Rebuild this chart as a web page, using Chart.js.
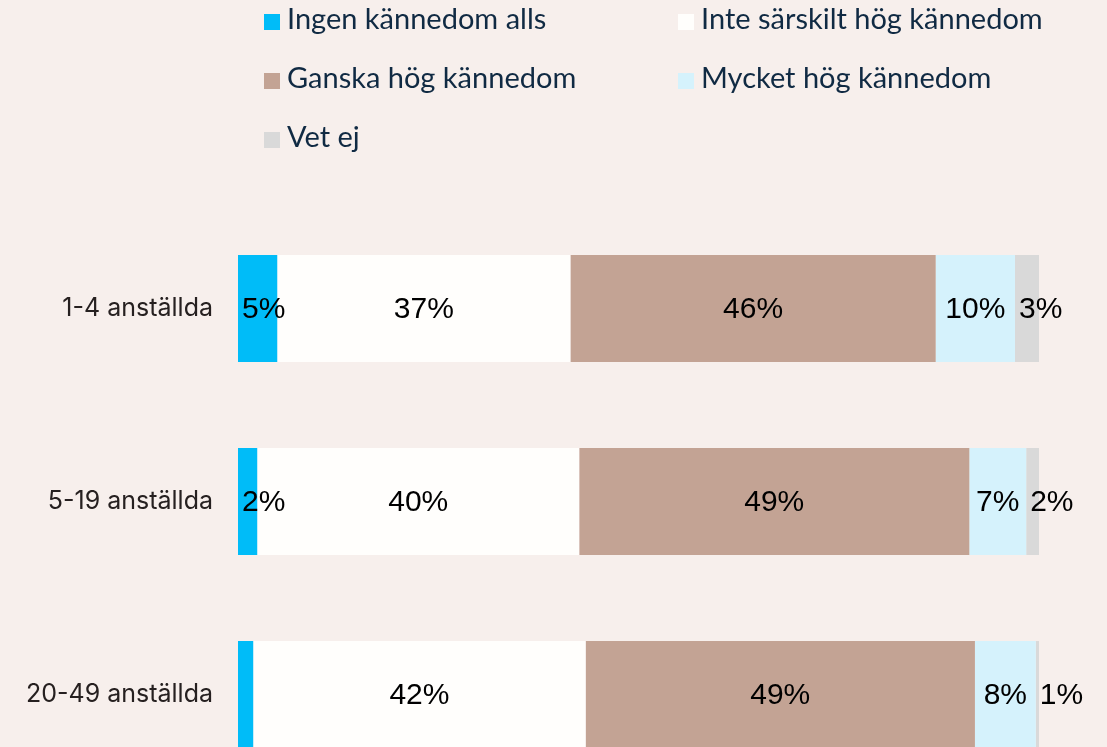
<!DOCTYPE html>
<html>
<head>
<meta charset="utf-8">
<script src="https://cdn.jsdelivr.net/npm/chart.js@4"></script>
<style>
  html, body { margin: 0; padding: 0; background: #F7EFEC; overflow: hidden; }
  #wrap { position: relative; width: 1107px; height: 800px; }
  #legend { position: absolute; left: 0; top: 0; width: 1107px; height: 200px; }
  .item { position: absolute; }
  .box { position: absolute; width: 16px; height: 16px; }
  .txt { position: absolute; white-space: nowrap; font-family: Lato, sans-serif; font-size: 29px;
         line-height: 29px; color: #102A43; }
</style>
</head>
<body>
<div id="wrap">
  <canvas id="kannedomChart" width="1107" height="800"></canvas>
  <div id="legend"></div>
</div>
<script>
// kategorier och serier (procent)
var categories = ['1-4 anställda', '5-19 anställda', '20-49 anställda']
var seriesNames = ['Ingen kännedom alls', 'Inte särskilt hög kännedom', 'Ganska hög kännedom', 'Mycket hög kännedom', 'Vet ej']
var ingen = [4.9, 2.4, 1.9]
var inteSarskilt = [36.6, 40.2, 41.5]
var ganska = [45.6, 48.7, 48.6]
var mycket = [9.9, 7.1, 7.6]
var vetEj = [3.0, 1.6, 0.6]
var colors = ['#00BCF8', '#FFFEFC', '#C3A394', '#D5F2FC', '#D9D9D9']
// etiketter som inte visas i originalet [serie, kategori]
var skipLabels = [[0, 2]]

var seriesValues = [ingen, inteSarskilt, ganska, mycket, vetEj]

var barLabels = {
    id: 'barLabels',
    afterDatasetsDraw(chart) {
        var ctx = chart.ctx
        ctx.save()
        ctx.font = '30px "Liberation Sans", Arial, sans-serif'
        ctx.fillStyle = '#000'
        ctx.textBaseline = 'middle'
        chart.data.datasets.forEach(function (ds, di) {
            var meta = chart.getDatasetMeta(di)
            meta.data.forEach(function (bar, i) {
                if (skipLabels.some(function (s) { return s[0] == di && s[1] == i })) return
                var text = Math.round(ds.data[i]) + '%'
                var w = ctx.measureText(text).width
                var left = Math.min(bar.base, bar.x), right = Math.max(bar.base, bar.x)
                var x
                if (w + 6 <= right - left) {
                    ctx.textAlign = 'center'
                    x = (left + right) / 2
                } else {
                    ctx.textAlign = 'left'
                    x = left + 4
                }
                ctx.fillText(text, x, bar.y + 1)
            })
        })
        ctx.restore()
    }
}

var ctx = document.getElementById('kannedomChart').getContext('2d')

var chart = new Chart(ctx, {
    type: 'bar',
    data: {
        labels: categories,
        datasets: seriesNames.map(function (name, i) {
            return {
                label: name,
                data: seriesValues[i],
                backgroundColor: colors[i],
                borderWidth: 0,
                barPercentage: 0.554,
                categoryPercentage: 1
            }
        })
    },
    options: {
        indexAxis: 'y',
        responsive: false,
        animation: false,
        layout: { padding: { left: 0, right: 68, top: 212, bottom: 9 } },
        plugins: {
            legend: { display: false },
            tooltip: { enabled: false }
        },
        scales: {
            x: { stacked: true, min: 0, max: 100, display: false },
            y: {
                stacked: true,
                grid: { display: false, drawTicks: false },
                border: { display: false },
                afterFit: function (scale) {
                    scale.width = 238
                    scale.paddingTop = 0
                    scale.paddingBottom = 0
                },
                ticks: {
                    padding: 25,
                    color: '#262020',
                    font: { family: 'Inter, "Open Sans", sans-serif', size: 25 }
                }
            }
        }
    },
    plugins: [barLabels]
})

// legend i två kolumner
var legendEl = document.getElementById('legend')
var colX = [264, 678]
chart.data.datasets.forEach(function (ds, i) {
    var col = i % 2, row = Math.floor(i / 2)
    var item = document.createElement('div')
    item.className = 'item'
    item.style.left = colX[col] + 'px'
    item.style.top = (14 + row * 59) + 'px'
    var box = document.createElement('div')
    box.className = 'box'
    box.style.background = ds.backgroundColor
    box.style.left = '0px'
    box.style.top = '0px'
    var txt = document.createElement('div')
    txt.className = 'txt'
    txt.style.left = '23px'
    txt.style.top = '-11px'
    txt.textContent = ds.label
    item.appendChild(box)
    item.appendChild(txt)
    legendEl.appendChild(item)
})
</script>
</body>
</html>
